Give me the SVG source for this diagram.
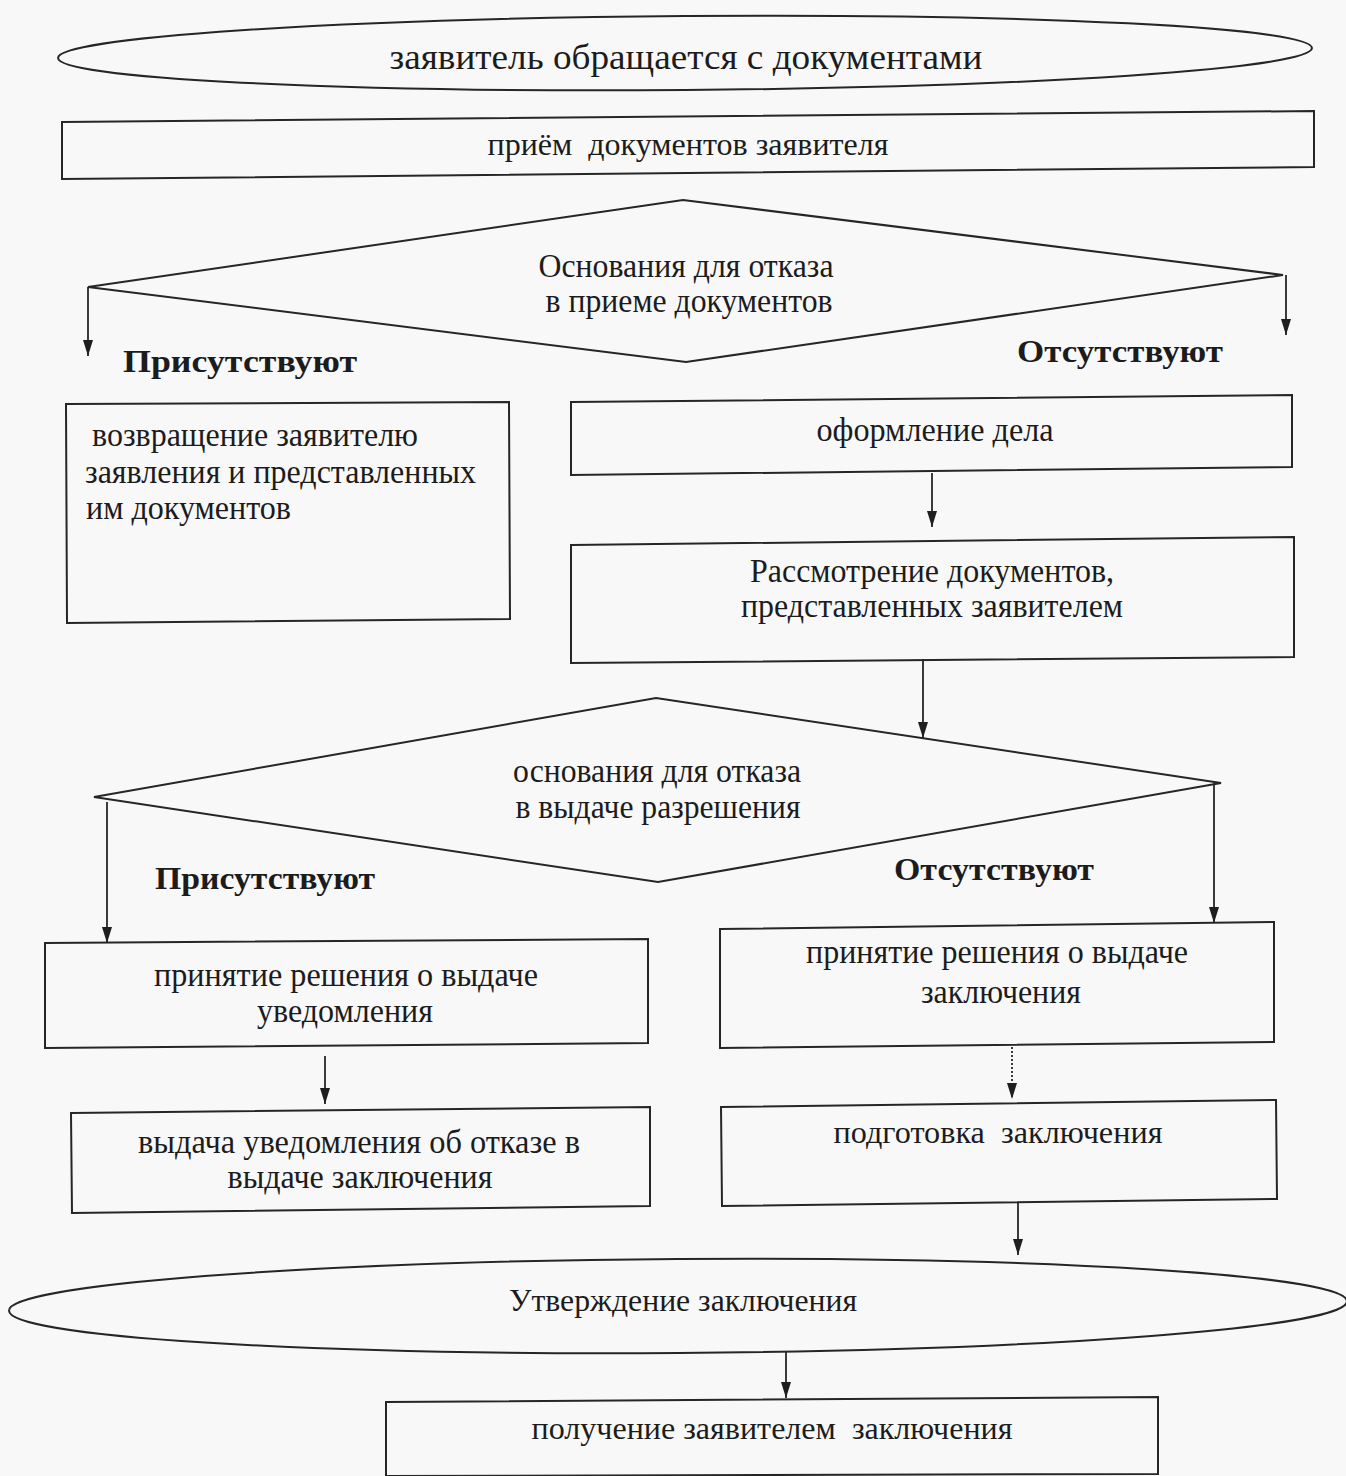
<svg xmlns="http://www.w3.org/2000/svg" width="1346" height="1476" viewBox="0 0 1346 1476">
<defs>
<marker id="arr" markerUnits="userSpaceOnUse" markerWidth="16" markerHeight="10" refX="16" refY="5" orient="auto" viewBox="0 0 16 10">
<path d="M0,0 L16,5 L0,10 Z" fill="#1e1e1e"/>
</marker>
<style>
.sh{fill:none;stroke:#262626;stroke-width:2}
.cn{fill:none;stroke:#262626;stroke-width:1.8;marker-end:url(#arr)}
.dot{stroke-dasharray:2 2}
text{font-family:"Liberation Serif","Times New Roman",serif;fill:#1c1c1c}
.c{text-anchor:middle}
.b{font-weight:bold}
</style>
</defs>
<rect width="1346" height="1476" fill="#f8f8f9"/>

<g id="connectors">
<line class="cn" x1="88" y1="287" x2="88" y2="356"/>
<line class="cn" x1="1286" y1="275" x2="1286" y2="335"/>
<line class="cn" x1="932" y1="473" x2="932" y2="527"/>
<line class="cn" x1="923" y1="659" x2="923" y2="738"/>
<line class="cn" x1="107" y1="802" x2="107" y2="943"/>
<line class="cn" x1="1214" y1="783" x2="1214" y2="923"/>
<line class="cn" x1="325" y1="1056" x2="325" y2="1104"/>
<line class="cn dot" x1="1012" y1="1047" x2="1012" y2="1099"/>
<line class="cn" x1="1018" y1="1202" x2="1018" y2="1255"/>
<line class="cn" x1="786" y1="1351" x2="786" y2="1398"/>
</g>

<g id="n1">
<ellipse class="sh" cx="685" cy="53" rx="627" ry="37" transform="rotate(-0.45 685 53)"/>
<text class="c" x="686" y="69" font-size="36" textLength="593" lengthAdjust="spacingAndGlyphs">заявитель обращается с документами</text>
</g>

<g id="n2">
<polygon class="sh" points="62,122 1314,111 1314,167 62,179"/>
<text class="c" x="688" y="155" font-size="31" textLength="401" lengthAdjust="spacingAndGlyphs" xml:space="preserve">приём  документов заявителя</text>
</g>

<g id="d1">
<polygon class="sh" points="683,200 1283,275 686,362 88,287"/>
<text class="c" x="686" y="277" font-size="34" textLength="295" lengthAdjust="spacingAndGlyphs">Основания для отказа</text>
<text class="c" x="689" y="312" font-size="34" textLength="287" lengthAdjust="spacingAndGlyphs">в приеме документов</text>
</g>

<g id="l1">
<text x="123" y="372" font-size="32" class="b" textLength="234" lengthAdjust="spacingAndGlyphs">Присутствуют</text>
</g>
<g id="l2">
<text x="1017" y="362" font-size="32" class="b" textLength="206" lengthAdjust="spacingAndGlyphs">Отсутствуют</text>
</g>

<g id="n3">
<polygon class="sh" points="66,404 509,402 510,619 67,623"/>
<text x="92" y="446" font-size="34" textLength="326" lengthAdjust="spacingAndGlyphs">возвращение заявителю</text>
<text x="85" y="483" font-size="34" textLength="391" lengthAdjust="spacingAndGlyphs">заявления и представленных</text>
<text x="86" y="519" font-size="34" textLength="205" lengthAdjust="spacingAndGlyphs">им документов</text>
</g>

<g id="n4">
<polygon class="sh" points="571,402 1292,395 1292,467 571,475"/>
<text class="c" x="935" y="441" font-size="34" textLength="237" lengthAdjust="spacingAndGlyphs">оформление дела</text>
</g>

<g id="n5">
<polygon class="sh" points="571,545 1294,537 1294,657 571,663"/>
<text class="c" x="932" y="582" font-size="34" textLength="364" lengthAdjust="spacingAndGlyphs">Рассмотрение документов,</text>
<text class="c" x="932" y="617" font-size="34" textLength="382" lengthAdjust="spacingAndGlyphs">представленных заявителем</text>
</g>

<g id="d2">
<polygon class="sh" points="656,698 1221,783 658,882 94,797"/>
<text class="c" x="657" y="782" font-size="33" textLength="288" lengthAdjust="spacingAndGlyphs">основания для отказа</text>
<text class="c" x="658" y="818" font-size="33" textLength="285" lengthAdjust="spacingAndGlyphs">в выдаче разрешения</text>
</g>

<g id="l3">
<text x="155" y="889" font-size="32" class="b" textLength="220" lengthAdjust="spacingAndGlyphs">Присутствуют</text>
</g>
<g id="l4">
<text x="894" y="880" font-size="32" class="b" textLength="200" lengthAdjust="spacingAndGlyphs">Отсутствуют</text>
</g>

<g id="n6">
<polygon class="sh" points="45,943 648,939 648,1043 45,1048"/>
<text class="c" x="346" y="986" font-size="34" textLength="384" lengthAdjust="spacingAndGlyphs">принятие решения о выдаче</text>
<text class="c" x="345" y="1022" font-size="34" textLength="176" lengthAdjust="spacingAndGlyphs">уведомления</text>
</g>

<g id="n7">
<polygon class="sh" points="71,1113 650,1107 650,1206 72,1213"/>
<text class="c" x="359" y="1153" font-size="34" textLength="442" lengthAdjust="spacingAndGlyphs">выдача уведомления об отказе в</text>
<text class="c" x="360" y="1188" font-size="34" textLength="265" lengthAdjust="spacingAndGlyphs">выдаче заключения</text>
</g>

<g id="n8">
<polygon class="sh" points="720,929 1274,922 1274,1042 720,1048"/>
<text class="c" x="997" y="963" font-size="34" textLength="382" lengthAdjust="spacingAndGlyphs">принятие решения о выдаче</text>
<text class="c" x="1001" y="1003" font-size="34" textLength="160" lengthAdjust="spacingAndGlyphs">заключения</text>
</g>

<g id="n9">
<polygon class="sh" points="721,1107 1276,1100 1277,1199 722,1206"/>
<text class="c" x="998" y="1143" font-size="31" textLength="329" lengthAdjust="spacingAndGlyphs" xml:space="preserve">подготовка  заключения</text>
</g>

<g id="n10">
<ellipse class="sh" cx="678" cy="1306" rx="669" ry="47" transform="rotate(-0.4 678 1306)"/>
<text class="c" x="683" y="1311" font-size="31" textLength="348" lengthAdjust="spacingAndGlyphs">Утверждение заключения</text>
</g>

<g id="n11">
<polygon class="sh" points="386,1402 1158,1397 1158,1474 386,1476"/>
<text class="c" x="772" y="1439" font-size="31" textLength="481" lengthAdjust="spacingAndGlyphs" xml:space="preserve">получение заявителем  заключения</text>
</g>
</svg>
